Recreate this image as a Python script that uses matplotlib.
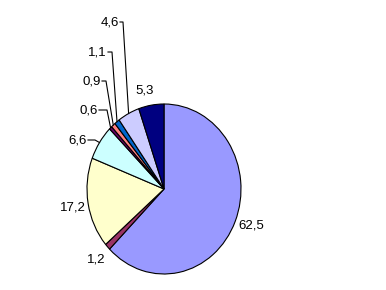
import numpy as np
import matplotlib
matplotlib.use('Agg')
import matplotlib.pyplot as plt

# slice values, clockwise from 12 o'clock
values = [62.5, 1.2, 17.2, 6.6, 0.6, 0.9, 1.1, 4.6, 5.3]
labels = ['62,5', '1,2', '17,2', '6,6', '0,6', '0,9', '1,1', '4,6', '5,3']
colors = ['#9999FF', '#993366', '#FFFFCC', '#CCFFFF', '#660066',
          '#FF8080', '#0066CC', '#CCCCFF', '#000080']

# label placement in pixels (x, y, ha) and elbow x for leader lines (None = no line)
label_pos = [(238, 226, 'left'), (105, 260, 'right'), (86, 207, 'right'),
             (87, 140, 'right'), (98, 110, 'right'), (101, 81, 'right'),
             (107, 52, 'right'), (119, 22, 'right'), (144.5, 90, 'center')]
elbow_x = [None, None, None, 95, 107, 106, 112, 123, None]

W, H = 386, 290
cx, cy, rx, ry = 164, 189, 77, 85

plt.rcParams['font.family'] = ['Liberation Sans', 'DejaVu Sans']

fig = plt.figure(figsize=(W / 100, H / 100), dpi=100)
ax = fig.add_axes([(cx - rx) / W, (H - cy - ry) / H, 2 * rx / W, 2 * ry / H])
ax.pie(values, colors=colors, startangle=90, counterclock=False,
       wedgeprops=dict(edgecolor='black', linewidth=0.8))
ax.set_aspect('auto')
ax.set_xlim(-1, 1)
ax.set_ylim(-1, 1)
ax.axis('off')


def to_data(px, py):
    return (px - cx) / rx, (cy - py) / ry


ends = np.cumsum(values) / sum(values) * 2 * np.pi
mids = ends - np.array(values) / sum(values) * np.pi

for lab, (px, py, ha), ex, m in zip(labels, label_pos, elbow_x, mids):
    x, y = to_data(px, py)
    ax.text(x, y, lab, ha=ha, va='center', fontsize=9.5, color='black')
    if ex is not None:
        x0, y0 = to_data(px + 1, py)
        x1, _ = to_data(ex, py)
        x2, y2 = np.sin(m), np.cos(m)
        ax.plot([x0, x1, x2], [y0, y0, y2], color='black', lw=0.8,
                clip_on=False)

fig.savefig('out.png', dpi=100)
